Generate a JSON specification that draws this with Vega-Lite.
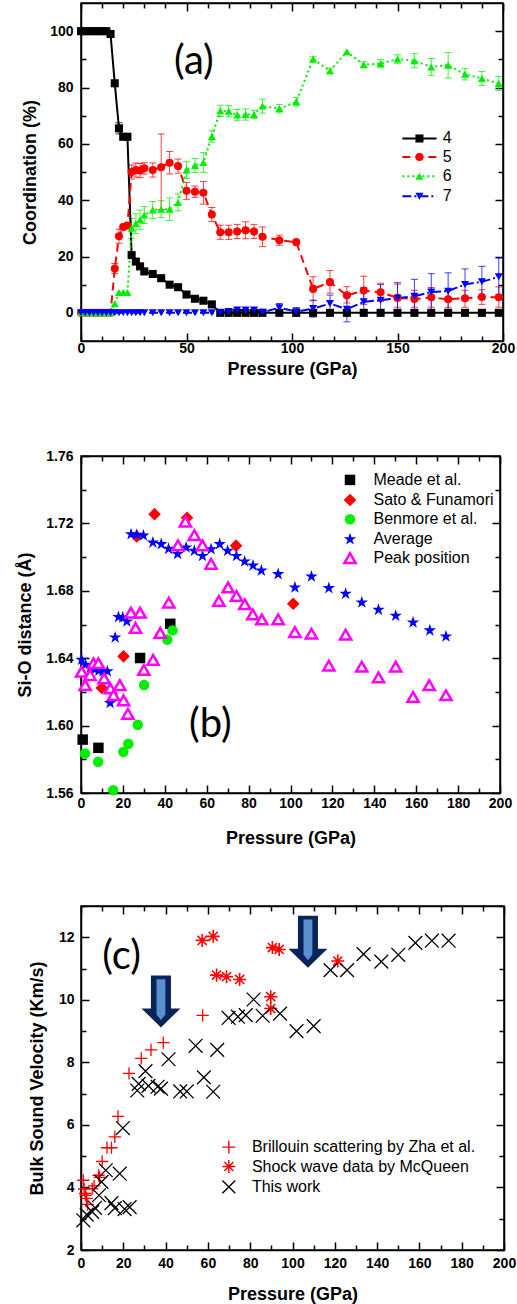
{
"$schema":"https://vega.github.io/schema/vega-lite/v6.json",
"background":"white",
"padding":{"left":16,"top":1,"right":2,"bottom":0},
"spacing":50,
"resolve":{"scale":{"x":"independent","y":"independent","color":"independent","shape":"independent","fill":"independent","stroke":"independent","strokeDash":"independent"}},
"config":{
 "font":"Liberation Sans",
 "view":{"stroke":"black","strokeWidth":1.5},
 "axis":{"domainColor":"black","domainWidth":1.5,"tickColor":"black","tickWidth":1.5,"grid":false,"labelFont":"Liberation Sans","labelFontWeight":"bold","labelFontSize":14,"labelColor":"black","titleFont":"Liberation Sans","titleFontWeight":"bold","titleFontSize":18,"titleColor":"black","labelFlush":false,"labelOverlap":false}
},
"datasets":{
 "coord":[
 {"s":"4","P":0,"v":100},{"s":"4","P":2,"v":100},{"s":"4","P":4,"v":100},{"s":"4","P":6,"v":100},{"s":"4","P":8,"v":100},{"s":"4","P":10,"v":100},{"s":"4","P":12,"v":100},{"s":"4","P":14,"v":99},{"s":"4","P":16,"v":81.5},{"s":"4","P":18,"v":65.5,"lo":63.5,"hi":67.5},{"s":"4","P":20,"v":62.5},{"s":"4","P":22,"v":62.5},{"s":"4","P":24,"v":20.5},{"s":"4","P":26,"v":18.2},{"s":"4","P":28,"v":16.5},{"s":"4","P":30,"v":14.7},{"s":"4","P":34,"v":13.8},{"s":"4","P":38,"v":12.3},{"s":"4","P":42,"v":10},{"s":"4","P":46,"v":9.1},{"s":"4","P":50,"v":6.5},{"s":"4","P":54,"v":5},{"s":"4","P":58,"v":4.3},{"s":"4","P":62,"v":3},{"s":"4","P":66,"v":0},{"s":"4","P":70,"v":0},{"s":"4","P":74,"v":0},{"s":"4","P":78,"v":0},{"s":"4","P":82,"v":0},{"s":"4","P":86,"v":0},{"s":"4","P":94,"v":0},{"s":"4","P":102,"v":0},{"s":"4","P":110,"v":0},{"s":"4","P":118,"v":0},{"s":"4","P":126,"v":0},{"s":"4","P":134,"v":0},{"s":"4","P":142,"v":0},{"s":"4","P":150,"v":0},{"s":"4","P":158,"v":0},{"s":"4","P":166,"v":0},{"s":"4","P":174,"v":0},{"s":"4","P":182,"v":0},{"s":"4","P":190,"v":0},{"s":"4","P":198,"v":0},
 {"s":"5","P":0,"v":0},{"s":"5","P":2,"v":0},{"s":"5","P":4,"v":0},{"s":"5","P":6,"v":0},{"s":"5","P":8,"v":0},{"s":"5","P":10,"v":0},{"s":"5","P":12,"v":0},{"s":"5","P":14,"v":0},{"s":"5","P":16,"v":15.7,"lo":14,"hi":17.5},{"s":"5","P":18,"v":27.2,"lo":24.7,"hi":29.7},{"s":"5","P":20,"v":30.5,"lo":29.5,"hi":31.5},{"s":"5","P":22,"v":31,"lo":30,"hi":32},{"s":"5","P":24,"v":50,"lo":47.5,"hi":52.5},{"s":"5","P":26,"v":50.7,"lo":48.2,"hi":53.2},{"s":"5","P":28,"v":50.5,"lo":48,"hi":53},{"s":"5","P":30,"v":51.3,"lo":49.3,"hi":53.3},{"s":"5","P":34,"v":50.7,"lo":48.2,"hi":53.2},{"s":"5","P":38,"v":51.7,"lo":36.7,"hi":63.5},{"s":"5","P":42,"v":53.3,"lo":49.3,"hi":57.3},{"s":"5","P":46,"v":52.1,"lo":49.6,"hi":54.6},{"s":"5","P":50,"v":43.3,"lo":40.3,"hi":46.3},{"s":"5","P":54,"v":43,"lo":41,"hi":45},{"s":"5","P":58,"v":42.6,"lo":38.6,"hi":46.6},{"s":"5","P":62,"v":34.9,"lo":32.4,"hi":37.4},{"s":"5","P":66,"v":28.6,"lo":26.1,"hi":31.1},{"s":"5","P":70,"v":28.6,"lo":26.1,"hi":31.1},{"s":"5","P":74,"v":28.9,"lo":26.4,"hi":31.4},{"s":"5","P":78,"v":29.3,"lo":26.3,"hi":32.3},{"s":"5","P":82,"v":28.9,"lo":26.4,"hi":31.4},{"s":"5","P":86,"v":27,"lo":23.5,"hi":30.5},{"s":"5","P":94,"v":25.8,"lo":24,"hi":27.6},{"s":"5","P":102,"v":25.1},{"s":"5","P":110,"v":8.5,"lo":4.3,"hi":12.8},{"s":"5","P":118,"v":10.9,"lo":7,"hi":15},{"s":"5","P":126,"v":6.2,"lo":3.5,"hi":9.3},{"s":"5","P":134,"v":7.9,"lo":3,"hi":13},{"s":"5","P":142,"v":7.3,"lo":4,"hi":10.5},{"s":"5","P":150,"v":5.3,"lo":2,"hi":10.2},{"s":"5","P":158,"v":4.9,"lo":2,"hi":8},{"s":"5","P":166,"v":5.5,"lo":2,"hi":9},{"s":"5","P":174,"v":4.8,"lo":2,"hi":8},{"s":"5","P":182,"v":5.2,"lo":2,"hi":8},{"s":"5","P":190,"v":5.6,"lo":3,"hi":8.2},{"s":"5","P":198,"v":5.5,"lo":2,"hi":9.2},
 {"s":"6","P":0,"v":0},{"s":"6","P":2,"v":0},{"s":"6","P":4,"v":0},{"s":"6","P":6,"v":0},{"s":"6","P":8,"v":0},{"s":"6","P":10,"v":0},{"s":"6","P":12,"v":0},{"s":"6","P":14,"v":0},{"s":"6","P":16,"v":3.2},{"s":"6","P":18,"v":7.2},{"s":"6","P":20,"v":7.2},{"s":"6","P":22,"v":7.2},{"s":"6","P":24,"v":30,"lo":26.5,"hi":33.5},{"s":"6","P":26,"v":31.7,"lo":28.2,"hi":35.2},{"s":"6","P":28,"v":33,"lo":29.5,"hi":36.5},{"s":"6","P":30,"v":34.7,"lo":31.7,"hi":37.7},{"s":"6","P":34,"v":36.5,"lo":33.5,"hi":39.5},{"s":"6","P":38,"v":36.8,"lo":33.8,"hi":39.8},{"s":"6","P":42,"v":36.8,"lo":32.8,"hi":40.8},{"s":"6","P":46,"v":39.2,"lo":36.2,"hi":42.2},{"s":"6","P":50,"v":50.7,"lo":47.7,"hi":53.7},{"s":"6","P":54,"v":52.3,"lo":49.8,"hi":54.8},{"s":"6","P":58,"v":53.4,"lo":49.9,"hi":56.9},{"s":"6","P":62,"v":62.6,"lo":60.6,"hi":64.6},{"s":"6","P":66,"v":71.7,"lo":69.7,"hi":73.7},{"s":"6","P":70,"v":71.6,"lo":69.6,"hi":73.6},{"s":"6","P":74,"v":70.2,"lo":68.2,"hi":72.2},{"s":"6","P":78,"v":70.4,"lo":68.4,"hi":72.4},{"s":"6","P":82,"v":70.4,"lo":68.9,"hi":71.9},{"s":"6","P":86,"v":73.4,"lo":70.9,"hi":75.9},{"s":"6","P":94,"v":72.5,"lo":71,"hi":74},{"s":"6","P":102,"v":74.9,"lo":73.4,"hi":76.4},{"s":"6","P":110,"v":90.1,"lo":89.1,"hi":91.1},{"s":"6","P":118,"v":85.9,"lo":84.9,"hi":86.9},{"s":"6","P":126,"v":92.7},{"s":"6","P":134,"v":88.1,"lo":87.1,"hi":89.1},{"s":"6","P":142,"v":88.5,"lo":87,"hi":90},{"s":"6","P":150,"v":90.1,"lo":88.6,"hi":91.6},{"s":"6","P":158,"v":89.5,"lo":87,"hi":92},{"s":"6","P":166,"v":87.3,"lo":84.3,"hi":90.3},{"s":"6","P":174,"v":87.9,"lo":83.4,"hi":92.4},{"s":"6","P":182,"v":84.7,"lo":82.7,"hi":86.7},{"s":"6","P":190,"v":83.2,"lo":80.7,"hi":85.7},{"s":"6","P":198,"v":81.4,"lo":78.9,"hi":83.9},
 {"s":"7","P":0,"v":0},{"s":"7","P":2,"v":0},{"s":"7","P":4,"v":0},{"s":"7","P":6,"v":0},{"s":"7","P":8,"v":0},{"s":"7","P":10,"v":0},{"s":"7","P":12,"v":0},{"s":"7","P":14,"v":0},{"s":"7","P":16,"v":0},{"s":"7","P":18,"v":0},{"s":"7","P":20,"v":0},{"s":"7","P":22,"v":0},{"s":"7","P":24,"v":0},{"s":"7","P":26,"v":0},{"s":"7","P":28,"v":0},{"s":"7","P":30,"v":0},{"s":"7","P":34,"v":0},{"s":"7","P":38,"v":0},{"s":"7","P":42,"v":0},{"s":"7","P":46,"v":0},{"s":"7","P":50,"v":0},{"s":"7","P":54,"v":0},{"s":"7","P":58,"v":0},{"s":"7","P":62,"v":0},{"s":"7","P":66,"v":0},{"s":"7","P":70,"v":0.5},{"s":"7","P":74,"v":1},{"s":"7","P":78,"v":1},{"s":"7","P":82,"v":1},{"s":"7","P":86,"v":0.2},{"s":"7","P":94,"v":1.8,"lo":0.3,"hi":3.3},{"s":"7","P":102,"v":0.4,"lo":-1.1,"hi":1.9},{"s":"7","P":110,"v":1.5,"lo":-1.5,"hi":4.5},{"s":"7","P":118,"v":3.3,"lo":0.3,"hi":6.3},{"s":"7","P":126,"v":1.3,"lo":-3.2,"hi":5.8},{"s":"7","P":134,"v":3.9,"lo":-1.1,"hi":8.9},{"s":"7","P":142,"v":4.5,"lo":-1,"hi":10},{"s":"7","P":150,"v":5.2,"lo":-0.3,"hi":10.7},{"s":"7","P":158,"v":5.9,"lo":-0.1,"hi":11.9},{"s":"7","P":166,"v":7.4,"lo":0.9,"hi":13.9},{"s":"7","P":174,"v":7.7,"lo":1.2,"hi":14.2},{"s":"7","P":182,"v":10.1,"lo":4.6,"hi":15.6},{"s":"7","P":190,"v":11,"lo":5.5,"hi":16.5},{"s":"7","P":198,"v":12.8,"lo":6.1,"hi":19.5}
 ],
 "legA":[
 {"s":"4","x1":152.3,"x2":168.5,"xm":160.4,"xt":171.4,"y":61.9},
 {"s":"5","x1":152.3,"x2":168.5,"xm":160.4,"xt":171.4,"y":55.3},
 {"s":"6","x1":152.3,"x2":168.5,"xm":160.4,"xt":171.4,"y":48.5},
 {"s":"7","x1":152.3,"x2":168.5,"xm":160.4,"xt":171.4,"y":41.4}
 ],
 "sio":[
 {"src":"Meade et al.","P":0.8,"v":1.5917},{"src":"Meade et al.","P":8.3,"v":1.5868},{"src":"Meade et al.","P":28.2,"v":1.6401},{"src":"Meade et al.","P":42.6,"v":1.6604},
 {"src":"Sato & Funamori","P":9.9,"v":1.6223},{"src":"Sato & Funamori","P":20.3,"v":1.6411},{"src":"Sato & Funamori","P":26.6,"v":1.7122},{"src":"Sato & Funamori","P":35.1,"v":1.7255},{"src":"Sato & Funamori","P":50.6,"v":1.7234},{"src":"Sato & Funamori","P":74,"v":1.7068},{"src":"Sato & Funamori","P":101.3,"v":1.6723},
 {"src":"Benmore et al.","P":1.9,"v":1.5834},{"src":"Benmore et al.","P":8.2,"v":1.5785},{"src":"Benmore et al.","P":15.4,"v":1.5617},{"src":"Benmore et al.","P":20.2,"v":1.5844},{"src":"Benmore et al.","P":22.6,"v":1.5892},{"src":"Benmore et al.","P":27.1,"v":1.6005},{"src":"Benmore et al.","P":30.1,"v":1.6241},{"src":"Benmore et al.","P":41.2,"v":1.651},{"src":"Benmore et al.","P":43.7,"v":1.6565},
 {"src":"Average","P":0.3,"v":1.6391},{"src":"Average","P":2.2,"v":1.6361},{"src":"Average","P":4.5,"v":1.6345},{"src":"Average","P":6.5,"v":1.6333},{"src":"Average","P":8.5,"v":1.6326},{"src":"Average","P":10.5,"v":1.6322},{"src":"Average","P":12.6,"v":1.6322},{"src":"Average","P":13.9,"v":1.6134},{"src":"Average","P":16.3,"v":1.6523},{"src":"Average","P":17.9,"v":1.6644},{"src":"Average","P":19.9,"v":1.6642},{"src":"Average","P":21.9,"v":1.6618},{"src":"Average","P":23.9,"v":1.7136},{"src":"Average","P":26.6,"v":1.7133},{"src":"Average","P":29.8,"v":1.7128},{"src":"Average","P":34.3,"v":1.7086},{"src":"Average","P":38.3,"v":1.7077},{"src":"Average","P":41.8,"v":1.7049},{"src":"Average","P":46.1,"v":1.7018},{"src":"Average","P":50.2,"v":1.7057},{"src":"Average","P":54.1,"v":1.7037},{"src":"Average","P":58,"v":1.7007},{"src":"Average","P":62.1,"v":1.7047},{"src":"Average","P":66.2,"v":1.7077},{"src":"Average","P":70,"v":1.7037},{"src":"Average","P":74.2,"v":1.7007},{"src":"Average","P":78.1,"v":1.6974},{"src":"Average","P":82.1,"v":1.695},{"src":"Average","P":86.1,"v":1.692},{"src":"Average","P":94.1,"v":1.6899},{"src":"Average","P":102.1,"v":1.682},{"src":"Average","P":110,"v":1.6885},{"src":"Average","P":118.3,"v":1.6816},{"src":"Average","P":126.3,"v":1.6782},{"src":"Average","P":134,"v":1.6731},{"src":"Average","P":142,"v":1.6687},{"src":"Average","P":150.2,"v":1.6652},{"src":"Average","P":158.5,"v":1.6612},{"src":"Average","P":166.5,"v":1.6565},{"src":"Average","P":174.2,"v":1.6529},
 {"src":"Peak position","P":0.3,"v":1.632},{"src":"Peak position","P":2,"v":1.624},{"src":"Peak position","P":4.3,"v":1.630},{"src":"Peak position","P":6,"v":1.637},{"src":"Peak position","P":8.3,"v":1.637},{"src":"Peak position","P":11,"v":1.628},{"src":"Peak position","P":14,"v":1.622},{"src":"Peak position","P":15.5,"v":1.618},{"src":"Peak position","P":18.5,"v":1.624},{"src":"Peak position","P":20.3,"v":1.615},{"src":"Peak position","P":22.4,"v":1.607},{"src":"Peak position","P":23.8,"v":1.667},{"src":"Peak position","P":26,"v":1.658},{"src":"Peak position","P":28.2,"v":1.667},{"src":"Peak position","P":30,"v":1.633},{"src":"Peak position","P":34.4,"v":1.639},{"src":"Peak position","P":37.8,"v":1.655},{"src":"Peak position","P":41.9,"v":1.673},{"src":"Peak position","P":46.3,"v":1.707},{"src":"Peak position","P":49.8,"v":1.721},{"src":"Peak position","P":54.1,"v":1.713},{"src":"Peak position","P":58,"v":1.707},{"src":"Peak position","P":62.1,"v":1.696},{"src":"Peak position","P":65.8,"v":1.674},{"src":"Peak position","P":70.2,"v":1.682},{"src":"Peak position","P":74.2,"v":1.677},{"src":"Peak position","P":78.2,"v":1.672},{"src":"Peak position","P":82,"v":1.666},{"src":"Peak position","P":86.3,"v":1.663},{"src":"Peak position","P":94.1,"v":1.663},{"src":"Peak position","P":102.1,"v":1.6555},{"src":"Peak position","P":110,"v":1.6545},{"src":"Peak position","P":118.3,"v":1.6356},{"src":"Peak position","P":126.3,"v":1.654},{"src":"Peak position","P":134,"v":1.635},{"src":"Peak position","P":142,"v":1.6286},{"src":"Peak position","P":150.2,"v":1.635},{"src":"Peak position","P":158.5,"v":1.617},{"src":"Peak position","P":166.2,"v":1.624},{"src":"Peak position","P":174.2,"v":1.618}
 ],
 "legB":[
 {"src":"Meade et al.","xs":128.4,"xt":139.6,"y":1.7458},
 {"src":"Sato & Funamori","xs":128.4,"xt":139.6,"y":1.7339},
 {"src":"Benmore et al.","xs":128.4,"xt":139.6,"y":1.7225},
 {"src":"Average","xs":128.4,"xt":139.6,"y":1.7106},
 {"src":"Peak position","xs":128.4,"xt":139.6,"y":1.6994}
 ],
 "vel":[
 {"t":"B","P":1.1,"v":4.23},{"t":"B","P":1.5,"v":3.95},{"t":"B","P":1.9,"v":3.81},{"t":"B","P":2.7,"v":3.65},{"t":"B","P":3.2,"v":3.46},{"t":"B","P":2.2,"v":3.75},{"t":"B","P":5.3,"v":3.96},{"t":"B","P":6.2,"v":4.05},{"t":"B","P":8.3,"v":4.39},{"t":"B","P":8.8,"v":4.32},{"t":"B","P":10,"v":4.83},{"t":"B","P":12.3,"v":5.27},{"t":"B","P":14.4,"v":5.27},{"t":"B","P":16,"v":5.62},{"t":"B","P":17.5,"v":6.27},{"t":"B","P":22.7,"v":7.65},{"t":"B","P":28.5,"v":8.13},{"t":"B","P":33.1,"v":8.4},{"t":"B","P":38.9,"v":8.63},{"t":"B","P":57.5,"v":9.5},
 {"t":"M","P":57.3,"v":11.9},{"t":"M","P":62.5,"v":12.03},{"t":"M","P":64.1,"v":10.79},{"t":"M","P":68.8,"v":10.74},{"t":"M","P":75,"v":10.65},{"t":"M","P":90.5,"v":11.67},{"t":"M","P":93.7,"v":11.61},{"t":"M","P":89.7,"v":10.1},{"t":"M","P":89.7,"v":9.72},{"t":"M","P":121.4,"v":11.24},
 {"t":"T","P":1.1,"v":2.95},{"t":"T","P":2.7,"v":3.13},{"t":"T","P":5.3,"v":3.22},{"t":"T","P":6.6,"v":3.35},{"t":"T","P":8.5,"v":3.75},{"t":"T","P":9.7,"v":4.18},{"t":"T","P":11.7,"v":4.55},{"t":"T","P":14.4,"v":3.5},{"t":"T","P":16,"v":3.34},{"t":"T","P":18.3,"v":4.44},{"t":"T","P":19.8,"v":5.9},{"t":"T","P":20.6,"v":3.31},{"t":"T","P":23,"v":3.37},{"t":"T","P":26.6,"v":7.1},{"t":"T","P":27.3,"v":7.31},{"t":"T","P":30.5,"v":7.72},{"t":"T","P":31.9,"v":7.25},{"t":"T","P":36.2,"v":7.22},{"t":"T","P":37.8,"v":7.16},{"t":"T","P":41.4,"v":8.1},{"t":"T","P":46.9,"v":7.07},{"t":"T","P":50,"v":7.07},{"t":"T","P":54.2,"v":8.53},{"t":"T","P":58.1,"v":7.52},{"t":"T","P":62.5,"v":7.06},{"t":"T","P":64.4,"v":8.4},{"t":"T","P":69.8,"v":9.42},{"t":"T","P":74.2,"v":9.46},{"t":"T","P":77.9,"v":9.51},{"t":"T","P":81.6,"v":10.01},{"t":"T","P":85.9,"v":9.49},{"t":"T","P":94.1,"v":9.56},{"t":"T","P":101.9,"v":9.0},{"t":"T","P":110,"v":9.16},{"t":"T","P":118,"v":10.95},{"t":"T","P":125.8,"v":10.95},{"t":"T","P":133.6,"v":11.46},{"t":"T","P":142,"v":11.22},{"t":"T","P":150,"v":11.44},{"t":"T","P":158.1,"v":11.82},{"t":"T","P":165.9,"v":11.89},{"t":"T","P":173.8,"v":11.89}
 ],
 "legC":[
 {"t":"B","name":"Brillouin scattering by Zha et al.","xs":69.9,"xt":80.8,"y":5.29},
 {"t":"M","name":"Shock wave data by McQueen","xs":69.9,"xt":80.8,"y":4.67},
 {"t":"T","name":"This work","xs":69.9,"xt":80.8,"y":4.02}
 ],
 "arrows":[{"P":37.8,"v":9.95},{"P":107.3,"v":11.86}]
},
"vconcat":[
{
 "width":422,"height":338,
 "resolve":{"axis":{"x":"independent","y":"independent"}},
 "layer":[
  {"data":{"name":"coord"},"transform":[{"filter":"isValid(datum.lo)"}],
   "mark":{"type":"errorbar","ticks":{"size":7},"thickness":1,"opacity":0.75},
   "encoding":{"x":{"field":"P","type":"quantitative","scale":{"domain":[0,200],"nice":false,"zero":false},"axis":null},
    "y":{"field":"lo","type":"quantitative","scale":{"domain":[-10,110],"nice":false,"zero":false},"axis":null},
    "y2":{"field":"hi"},
    "color":{"field":"s","type":"nominal","scale":{"domain":["4","5","6","7"],"range":["#000000","#ff0000","#00ee00","#0000ff"]},"legend":null}}},
  {"data":{"name":"coord"},
   "mark":{"type":"line","strokeWidth":2},
   "encoding":{"x":{"field":"P","type":"quantitative","axis":null},"y":{"field":"v","type":"quantitative","axis":null},
    "color":{"field":"s","type":"nominal","legend":null},
    "strokeDash":{"field":"s","type":"nominal","scale":{"domain":["4","5","6","7"],"range":[[1,0],[8,5],[2,3],[9,3,2,3]]},"legend":null},
    "order":{"field":"P","type":"quantitative"}}},
  {"data":{"name":"coord"},
   "mark":{"type":"point","filled":true,"opacity":1,"size":65},
   "encoding":{"x":{"field":"P","type":"quantitative","axis":{"orient":"bottom","title":"Pressure (GPa)","values":[0,10,20,30,40,50,60,70,80,90,100,110,120,130,140,150,160,170,180,190,200],"labelExpr":"datum.value % 50 === 0 ? datum.label : ''","tickSize":{"condition":{"test":"datum.value % 50 === 0","value":-8},"value":-5},"labelPadding":8,"titlePadding":2}},
    "y":{"field":"v","type":"quantitative","axis":{"orient":"left","title":"Coordination (%)","values":[0,10,20,30,40,50,60,70,80,90,100],"labelExpr":"datum.value % 20 === 0 ? datum.label : ''","tickSize":{"condition":{"test":"datum.value % 20 === 0","value":-8},"value":-5},"labelPadding":16,"titlePadding":10}},
    "color":{"field":"s","type":"nominal","legend":null},
    "shape":{"field":"s","type":"nominal","scale":{"domain":["4","5","6","7"],"range":["square","circle","triangle-up","triangle-down"]},"legend":null}}},
  {"data":{"name":"legA"},
   "mark":{"type":"rule","strokeWidth":2},
   "encoding":{"x":{"field":"x1","type":"quantitative","axis":null},"x2":{"field":"x2"},"y":{"field":"y","type":"quantitative","axis":null},
    "color":{"field":"s","type":"nominal","legend":null},"strokeDash":{"field":"s","type":"nominal","legend":null}}},
  {"data":{"name":"legA"},
   "mark":{"type":"point","filled":true,"opacity":1,"size":65},
   "encoding":{"x":{"field":"xm","type":"quantitative","axis":null},"y":{"field":"y","type":"quantitative","axis":null},
    "color":{"field":"s","type":"nominal","legend":null},"shape":{"field":"s","type":"nominal","legend":null}}},
  {"data":{"name":"legA"},
   "mark":{"type":"text","align":"left","baseline":"middle","fontSize":16,"font":"Liberation Sans","color":"black"},
   "encoding":{"x":{"field":"xt","type":"quantitative","axis":null},"y":{"field":"y","type":"quantitative","axis":null},"text":{"field":"s"}}},
  {"data":{"values":[{"lab":"(a)","P":53.5,"v":89}]},
   "mark":{"type":"text","align":"center","baseline":"middle","fontSize":40,"font":"Lato","color":"black"},
   "encoding":{"x":{"field":"P","type":"quantitative","axis":null},"y":{"field":"v","type":"quantitative","axis":null},"text":{"field":"lab"}}},
  {"data":{"values":[{"a":0}]},
   "mark":{"type":"point","opacity":0},
   "encoding":{"x":{"field":"a","type":"quantitative","axis":{"orient":"top","title":null,"labels":false,"values":[0,10,20,30,40,50,60,70,80,90,100,110,120,130,140,150,160,170,180,190,200],"tickSize":{"condition":{"test":"datum.value % 50 === 0","value":-8},"value":-5}}},
    "y":{"field":"a","type":"quantitative","axis":{"orient":"right","title":null,"labels":false,"values":[0,10,20,30,40,50,60,70,80,90,100],"tickSize":{"condition":{"test":"datum.value % 20 === 0","value":-8},"value":-5}}}}}
 ]
},
{
 "width":419,"height":337,
 "title":{"text":" ","fontSize":10,"offset":9},
 "resolve":{"axis":{"x":"independent","y":"independent"}},
 "layer":[
  {"data":{"name":"sio"},"transform":[{"filter":"datum.src !== 'Peak position'"}],
   "mark":{"type":"point","filled":true,"opacity":1,"size":110,"strokeWidth":0},
   "encoding":{"x":{"field":"P","type":"quantitative","scale":{"domain":[0,200],"nice":false,"zero":false},"axis":{"orient":"bottom","title":"Pressure (GPa)","values":[0,10,20,30,40,50,60,70,80,90,100,110,120,130,140,150,160,170,180,190,200],"labelExpr":"datum.value % 20 === 0 ? datum.label : ''","tickSize":{"condition":{"test":"datum.value % 20 === 0","value":-8},"value":-5},"labelPadding":11,"titlePadding":16}},
    "y":{"field":"v","type":"quantitative","scale":{"domain":[1.56,1.76],"nice":false,"zero":false},"axis":{"orient":"left","title":"Si-O distance (Å)","values":[1.56,1.58,1.6,1.62,1.64,1.66,1.68,1.7,1.72,1.74,1.76],"format":".2f","labelExpr":"round(datum.value*100) % 4 === 0 ? datum.label : ''","tickSize":{"condition":{"test":"round(datum.value*100) % 4 === 0","value":-8},"value":-5},"labelPadding":16,"titlePadding":11}},
    "fill":{"field":"src","type":"nominal","scale":{"domain":["Meade et al.","Sato & Funamori","Benmore et al.","Average","Peak position"],"range":["#000000","#ff0000","#00ee00","#0000ff","#ff00ff"]},"legend":null},
    "shape":{"field":"src","type":"nominal","scale":{"domain":["Meade et al.","Sato & Funamori","Benmore et al.","Average","Peak position"],"range":["square","M0,-1.2L1.2,0L0,1.2L-1.2,0Z","circle","M0,-1.25L0.28,-0.386L1.189,-0.386L0.454,0.148L0.735,1.011L0,0.478L-0.735,1.011L-0.454,0.148L-1.189,-0.386L-0.28,-0.386Z","triangle-up"]},"legend":null}}},
  {"data":{"name":"sio"},"transform":[{"filter":"datum.src === 'Peak position'"}],
   "mark":{"type":"point","filled":false,"opacity":1,"size":125,"strokeWidth":2.5,"color":"#ff00ff","fill":"white","fillOpacity":1,"shape":"triangle-up"},
   "encoding":{"x":{"field":"P","type":"quantitative","axis":null},"y":{"field":"v","type":"quantitative","axis":null}}},
  {"data":{"name":"legB"},"transform":[{"filter":"datum.src !== 'Peak position'"}],
   "mark":{"type":"point","filled":true,"opacity":1,"size":110,"strokeWidth":0},
   "encoding":{"x":{"field":"xs","type":"quantitative","axis":null},"y":{"field":"y","type":"quantitative","axis":null},
    "fill":{"field":"src","type":"nominal","legend":null},"shape":{"field":"src","type":"nominal","legend":null}}},
  {"data":{"name":"legB"},"transform":[{"filter":"datum.src === 'Peak position'"}],
   "mark":{"type":"point","filled":false,"opacity":1,"size":125,"strokeWidth":2.5,"color":"#ff00ff","fill":"white","fillOpacity":1,"shape":"triangle-up"},
   "encoding":{"x":{"field":"xs","type":"quantitative","axis":null},"y":{"field":"y","type":"quantitative","axis":null}}},
  {"data":{"name":"legB"},
   "mark":{"type":"text","align":"left","baseline":"middle","fontSize":16,"font":"Liberation Sans","color":"black"},
   "encoding":{"x":{"field":"xt","type":"quantitative","axis":null},"y":{"field":"y","type":"quantitative","axis":null},"text":{"field":"src"}}},
  {"data":{"values":[{"lab":"(b)","P":61.7,"v":1.6006}]},
   "mark":{"type":"text","align":"center","baseline":"middle","fontSize":40,"font":"Lato","color":"black"},
   "encoding":{"x":{"field":"P","type":"quantitative","axis":null},"y":{"field":"v","type":"quantitative","axis":null},"text":{"field":"lab"}}},
  {"data":{"values":[{"a":0,"b":1.6}]},
   "mark":{"type":"point","opacity":0},
   "encoding":{"x":{"field":"a","type":"quantitative","axis":{"orient":"top","title":null,"labels":false,"values":[0,10,20,30,40,50,60,70,80,90,100,110,120,130,140,150,160,170,180,190,200],"tickSize":{"condition":{"test":"datum.value % 20 === 0","value":-8},"value":-5}}},
    "y":{"field":"b","type":"quantitative","axis":{"orient":"right","title":null,"labels":false,"values":[1.56,1.58,1.6,1.62,1.64,1.66,1.68,1.7,1.72,1.74,1.76],"tickSize":{"condition":{"test":"round(datum.value*100) % 4 === 0","value":-8},"value":-5}}}}}
 ]
},
{
 "width":423,"height":344,
 "resolve":{"axis":{"x":"independent","y":"independent"}},
 "layer":[
  {"data":{"name":"vel"},"transform":[{"filter":"datum.t === 'B'"}],
   "mark":{"type":"point","filled":false,"opacity":1,"size":150,"strokeWidth":1.3,"color":"#ff0000","shape":"M-1,0L1,0M0,-1L0,1"},
   "encoding":{"x":{"field":"P","type":"quantitative","scale":{"domain":[0,200],"nice":false,"zero":false},"axis":{"orient":"bottom","title":"Pressure (GPa)","values":[0,10,20,30,40,50,60,70,80,90,100,110,120,130,140,150,160,170,180,190,200],"labelExpr":"datum.value % 20 === 0 ? datum.label : ''","tickSize":{"condition":{"test":"datum.value % 20 === 0","value":-8},"value":-5},"labelPadding":14,"titlePadding":12}},
    "y":{"field":"v","type":"quantitative","scale":{"domain":[2,13],"nice":false,"zero":false},"axis":{"orient":"left","title":"Bulk Sound Velocity (Km/s)","values":[2,3,4,5,6,7,8,9,10,11,12,13],"labelExpr":"datum.value % 2 === 0 ? datum.label : ''","tickSize":{"condition":{"test":"datum.value % 2 === 0","value":-8},"value":-5},"labelPadding":15,"titlePadding":12}}}},
  {"data":{"name":"vel"},"transform":[{"filter":"datum.t === 'M'"}],
   "mark":{"type":"point","filled":false,"opacity":1,"size":170,"strokeWidth":1.6,"color":"#ff0000","shape":"M-1,0L1,0M0,-1L0,1M-0.7,-0.7L0.7,0.7M-0.7,0.7L0.7,-0.7"},
   "encoding":{"x":{"field":"P","type":"quantitative","axis":null},"y":{"field":"v","type":"quantitative","axis":null}}},
  {"data":{"name":"vel"},"transform":[{"filter":"datum.t === 'T'"}],
   "mark":{"type":"point","filled":false,"opacity":1,"size":190,"strokeWidth":1.3,"color":"#000000","shape":"M-1,-1L1,1M-1,1L1,-1"},
   "encoding":{"x":{"field":"P","type":"quantitative","axis":null},"y":{"field":"v","type":"quantitative","axis":null}}},
  {"data":{"name":"arrows"},
   "mark":{"type":"point","filled":true,"opacity":1,"size":2704,"color":"#0a2459","shape":"M-0.385,-1L0.385,-1L0.385,0.27L0.75,0.27L0,1L-0.75,0.27L-0.385,0.27Z"},
   "encoding":{"x":{"field":"P","type":"quantitative","axis":null},"y":{"field":"v","type":"quantitative","axis":null}}},
  {"data":{"name":"arrows"},
   "mark":{"type":"point","filled":true,"opacity":1,"size":2704,"color":"#5a8fd0","shape":"M-0.17,-0.85L0.17,-0.85L0.17,0.5L0,0.72L-0.17,0.5Z"},
   "encoding":{"x":{"field":"P","type":"quantitative","axis":null},"y":{"field":"v","type":"quantitative","axis":null}}},
  {"data":{"name":"legC"},
   "mark":{"type":"point","filled":false,"opacity":1,"size":165,"strokeWidth":1.4},
   "encoding":{"x":{"field":"xs","type":"quantitative","axis":null},"y":{"field":"y","type":"quantitative","axis":null},
    "shape":{"field":"t","type":"nominal","scale":{"domain":["B","M","T"],"range":["M-1,0L1,0M0,-1L0,1","M-1,0L1,0M0,-1L0,1M-0.7,-0.7L0.7,0.7M-0.7,0.7L0.7,-0.7","M-1,-1L1,1M-1,1L1,-1"]},"legend":null},
    "stroke":{"field":"t","type":"nominal","scale":{"domain":["B","M","T"],"range":["#ff0000","#ff0000","#000000"]},"legend":null}}},
  {"data":{"name":"legC"},
   "mark":{"type":"text","align":"left","baseline":"middle","fontSize":16,"font":"Liberation Sans","color":"black"},
   "encoding":{"x":{"field":"xt","type":"quantitative","axis":null},"y":{"field":"y","type":"quantitative","axis":null},"text":{"field":"name"}}},
  {"data":{"values":[{"lab":"(c)","P":19.2,"v":11.37}]},
   "mark":{"type":"text","align":"center","baseline":"middle","fontSize":40,"font":"Lato","color":"black"},
   "encoding":{"x":{"field":"P","type":"quantitative","axis":null},"y":{"field":"v","type":"quantitative","axis":null},"text":{"field":"lab"}}},
  {"data":{"values":[{"a":0,"b":5}]},
   "mark":{"type":"point","opacity":0},
   "encoding":{"x":{"field":"a","type":"quantitative","axis":{"orient":"top","title":null,"labels":false,"values":[0,10,20,30,40,50,60,70,80,90,100,110,120,130,140,150,160,170,180,190,200],"tickSize":{"condition":{"test":"datum.value % 20 === 0","value":-8},"value":-5}}},
    "y":{"field":"b","type":"quantitative","axis":{"orient":"right","title":null,"labels":false,"values":[2,3,4,5,6,7,8,9,10,11,12,13],"tickSize":{"condition":{"test":"datum.value % 2 === 0","value":-8},"value":-5}}}}}
 ]
}
]
}
